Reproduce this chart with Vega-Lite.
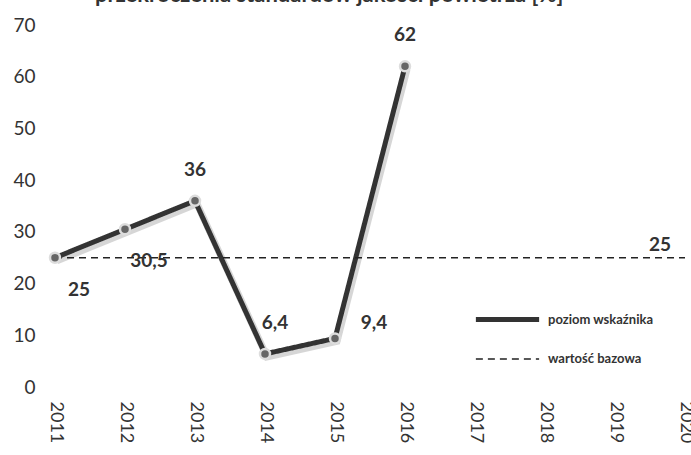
{
  "$schema": "https://vega.github.io/schema/vega-lite/v6.json",
  "autosize": {"type": "none"},
  "width": 630,
  "height": 362,
  "padding": {"left": 55, "top": 25, "right": 6, "bottom": 68},
  "background": "white",
  "title": {
    "text": "przekroczenia standardów jakości powietrza [%]",
    "anchor": "start",
    "frame": "group",
    "dx": 40,
    "offset": -8,
    "baseline": "alphabetic",
    "font": "Lato",
    "fontSize": 22,
    "fontWeight": "bold",
    "color": "#333"
  },
  "config": {
    "view": {"stroke": null},
    "font": "Lato"
  },
  "datasets": {
    "lines": [
      {"year": 2011, "value": 25, "series": "poziom wskaźnika"},
      {"year": 2012, "value": 30.5, "series": "poziom wskaźnika"},
      {"year": 2013, "value": 36, "series": "poziom wskaźnika"},
      {"year": 2014, "value": 6.4, "series": "poziom wskaźnika"},
      {"year": 2015, "value": 9.4, "series": "poziom wskaźnika"},
      {"year": 2016, "value": 62, "series": "poziom wskaźnika"},
      {"year": 2011, "value": 25, "series": "wartość bazowa"},
      {"year": 2020, "value": 25, "series": "wartość bazowa"}
    ],
    "labels": [
      {"year": 2011, "value": 25, "label": "25", "pos": "belowright"},
      {"year": 2012, "value": 30.5, "label": "30,5", "pos": "belowright"},
      {"year": 2013, "value": 36, "label": "36", "pos": "above"},
      {"year": 2014, "value": 6.4, "label": "6,4", "pos": "aboveright"},
      {"year": 2015, "value": 9.4, "label": "9,4", "pos": "right"},
      {"year": 2016, "value": 62, "label": "62", "pos": "above"},
      {"year": 2020, "value": 25, "label": "25", "pos": "aboveleft"}
    ]
  },
  "encoding": {
    "x": {
      "field": "year",
      "type": "ordinal",
      "scale": {"type": "point", "padding": 0, "domain": [2011, 2012, 2013, 2014, 2015, 2016, 2017, 2018, 2019, 2020]},
      "axis": {
        "title": null,
        "labelAngle": 90,
        "labelFontSize": 18,
        "labelColor": "#333",
        "labelPadding": 14,
        "domain": false,
        "ticks": false,
        "grid": false
      }
    },
    "y": {
      "field": "value",
      "type": "quantitative",
      "scale": {"domain": [0, 70], "nice": false},
      "axis": {
        "title": null,
        "values": [0, 10, 20, 30, 40, 50, 60, 70],
        "labelFontSize": 19,
        "labelColor": "#333",
        "labelPadding": 20,
        "domain": false,
        "ticks": false,
        "grid": false
      }
    }
  },
  "layer": [
    {
      "data": {"name": "lines"},
      "transform": [{"filter": "datum.series === 'poziom wskaźnika'"}],
      "mark": {"type": "line", "color": "#bbbbbb", "strokeWidth": 7, "opacity": 0.6, "xOffset": 2, "yOffset": 3}
    },
    {
      "data": {"name": "lines"},
      "mark": {"type": "line"},
      "encoding": {
        "color": {
          "field": "series",
          "type": "nominal",
          "scale": {"domain": ["poziom wskaźnika", "wartość bazowa"], "range": ["#333333", "#222222"]},
          "legend": {
            "title": null,
            "orient": "none",
            "legendX": 434,
            "legendY": 276,
            "padding": 0,
            "symbolType": "M-2,0H2",
            "symbolSize": 1000,
            "labelFontSize": 13,
            "labelFontWeight": "bold",
            "labelColor": "#333",
            "labelOffset": 22,
            "rowPadding": 12
          }
        },
        "strokeDash": {
          "field": "series",
          "type": "nominal",
          "scale": {"domain": ["poziom wskaźnika", "wartość bazowa"], "range": [[1, 0], [7, 5]]}
        },
        "strokeWidth": {
          "field": "series",
          "type": "nominal",
          "scale": {"domain": ["poziom wskaźnika", "wartość bazowa"], "range": [5, 1.5]}
        }
      }
    },
    {
      "data": {"name": "lines"},
      "transform": [{"filter": "datum.series === 'poziom wskaźnika'"}],
      "mark": {"type": "point", "shape": "circle", "filled": true, "size": 100, "fill": "#666666", "stroke": "#dddddd", "strokeWidth": 2.5, "opacity": 1}
    },
    {
      "data": {"name": "labels"},
      "transform": [{"filter": "datum.pos === 'above'"}],
      "mark": {"type": "text", "dy": -31, "fontSize": 19, "fontWeight": "bold", "color": "#333"},
      "encoding": {"text": {"field": "label"}}
    },
    {
      "data": {"name": "labels"},
      "transform": [{"filter": "datum.pos === 'belowright'"}],
      "mark": {"type": "text", "dx": 24, "dy": 32, "fontSize": 19, "fontWeight": "bold", "color": "#333"},
      "encoding": {"text": {"field": "label"}}
    },
    {
      "data": {"name": "labels"},
      "transform": [{"filter": "datum.pos === 'aboveright'"}],
      "mark": {"type": "text", "dx": 10, "dy": -31, "fontSize": 19, "fontWeight": "bold", "color": "#333"},
      "encoding": {"text": {"field": "label"}}
    },
    {
      "data": {"name": "labels"},
      "transform": [{"filter": "datum.pos === 'right'"}],
      "mark": {"type": "text", "dx": 39, "dy": -15, "fontSize": 19, "fontWeight": "bold", "color": "#333"},
      "encoding": {"text": {"field": "label"}}
    },
    {
      "data": {"name": "labels"},
      "transform": [{"filter": "datum.pos === 'aboveleft'"}],
      "mark": {"type": "text", "dx": -25, "dy": -13, "fontSize": 19, "fontWeight": "bold", "color": "#333"},
      "encoding": {"text": {"field": "label"}}
    }
  ]
}
